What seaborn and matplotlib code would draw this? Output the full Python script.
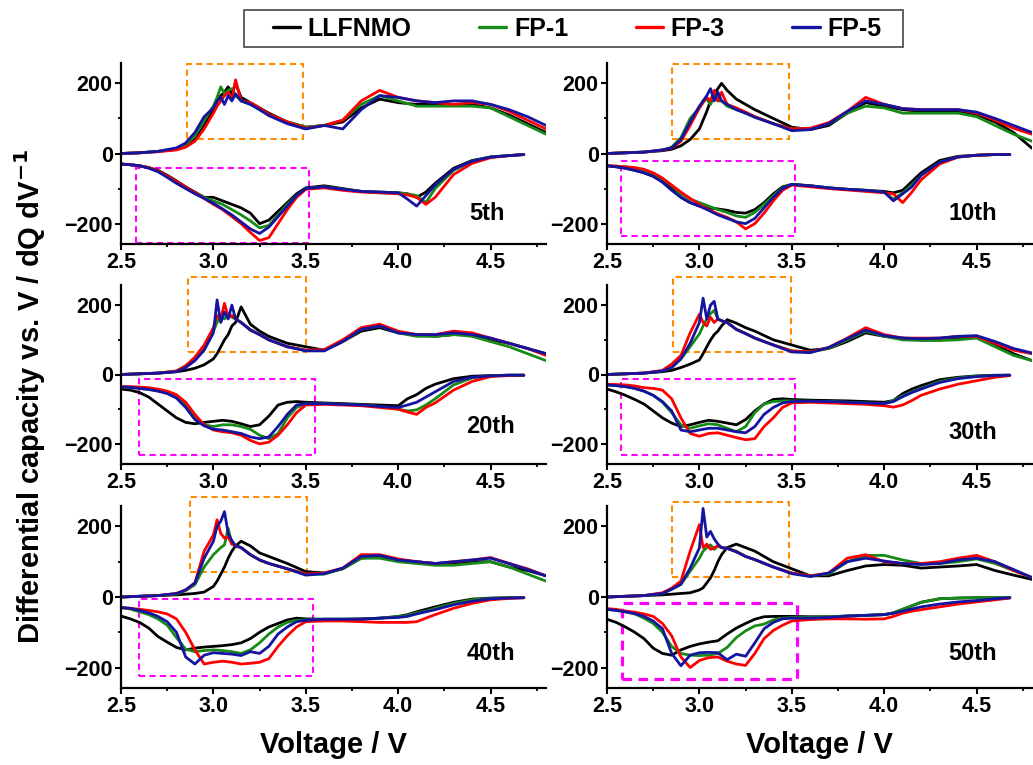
import matplotlib
matplotlib.use("Agg")
import matplotlib.pyplot as plt
from matplotlib.patches import Rectangle
from matplotlib.ticker import MultipleLocator, FormatStrFormatter
from matplotlib.lines import Line2D
import pandas as pd
import seaborn as sns

# ---------------- data ----------------
SAMPLES = ["LLFNMO", "FP-1", "FP-3", "FP-5"]
COLORS = ["#000000", "#178a17", "#ff0000", "#1414a0"]
CYCLES = ["5th", "10th", "20th", "30th", "40th", "50th"]

CH_V = [2.5, 2.6, 2.7, 2.8, 2.85, 2.9, 2.95, 3.0, 3.02, 3.04, 3.06, 3.08, 3.1, 3.12, 3.15, 3.2,
        3.25, 3.3, 3.4, 3.5, 3.6, 3.7, 3.8, 3.9, 4.0, 4.1, 4.2, 4.3, 4.4, 4.5, 4.6, 4.7, 4.8]
DIS_V = [2.5, 2.55, 2.6, 2.65, 2.7, 2.75, 2.8, 2.85, 2.9, 2.95, 3.0, 3.05, 3.1, 3.15, 3.2, 3.25,
         3.3, 3.35, 3.4, 3.45, 3.5, 3.6, 3.7, 3.8, 3.9, 4.0, 4.05, 4.1, 4.15, 4.2, 4.3, 4.4, 4.5, 4.6, 4.68]

# charge (positive) branches
CH_5 = {
    "LLFNMO": [0, 2, 6, 12, 20, 40, 80, 125, 150, 165, 175, 190, 170, 200, 160, 145, 130, 115, 90, 75, 80, 90, 130, 155, 145, 140, 140, 140, 140, 130, 110, 85, 60],
    "FP-1": [0, 2, 6, 14, 25, 50, 95, 135, 160, 190, 170, 180, 185, 165, 150, 140, 125, 110, 90, 75, 80, 95, 140, 165, 150, 135, 135, 135, 135, 130, 105, 80, 55],
    "FP-3": [0, 2, 5, 10, 18, 35, 70, 115, 135, 150, 165, 175, 155, 210, 150, 145, 130, 112, 90, 72, 80, 95, 150, 180, 160, 150, 145, 140, 145, 140, 120, 95, 70],
    "FP-5": [0, 2, 6, 16, 30, 60, 105, 130, 150, 160, 140, 165, 150, 170, 150, 140, 125, 108, 85, 70, 80, 70, 125, 165, 160, 150, 145, 150, 150, 140, 125, 105, 80],
}
CH_10 = {
    "LLFNMO": [0, 2, 4, 8, 12, 22, 40, 70, 95, 120, 150, 170, 185, 200, 180, 155, 140, 125, 100, 75, 68, 80, 115, 145, 135, 125, 120, 120, 120, 110, 90, 60, 15],
    "FP-1": [0, 2, 4, 10, 18, 45, 100, 130, 150, 155, 140, 160, 150, 150, 135, 125, 115, 105, 85, 70, 70, 85, 115, 135, 130, 115, 115, 115, 115, 105, 80, 55, 35],
    "FP-3": [0, 2, 4, 10, 15, 35, 80, 130, 145, 160, 150, 180, 150, 175, 140, 130, 118, 105, 85, 70, 72, 88, 120, 160, 140, 128, 125, 125, 125, 115, 95, 72, 55],
    "FP-5": [0, 2, 4, 10, 16, 40, 90, 135, 150, 165, 185, 150, 175, 150, 140, 125, 115, 103, 85, 65, 68, 85, 120, 150, 140, 128, 125, 125, 125, 118, 100, 80, 60],
}
CH_20 = {
    "LLFNMO": [0, 2, 4, 8, 12, 18, 28, 45, 60, 80, 100, 115, 140, 150, 195, 145, 125, 110, 90, 80, 70, 95, 125, 135, 120, 115, 110, 115, 115, 100, 90, 75, 60],
    "FP-1": [0, 2, 4, 10, 25, 45, 75, 125, 150, 170, 160, 175, 165, 160, 150, 130, 115, 100, 80, 70, 70, 95, 130, 140, 120, 110, 110, 115, 110, 95, 80, 60, 40],
    "FP-3": [0, 2, 4, 10, 25, 50, 85, 135, 170, 160, 205, 165, 170, 160, 150, 128, 115, 100, 80, 70, 72, 100, 135, 145, 125, 115, 115, 125, 120, 105, 90, 75, 55],
    "FP-5": [0, 2, 4, 8, 20, 40, 70, 120, 215, 150, 180, 160, 200, 160, 150, 128, 115, 100, 80, 68, 68, 95, 130, 140, 120, 115, 115, 120, 115, 105, 90, 75, 60],
}
CH_30 = {
    "LLFNMO": [0, 2, 4, 8, 12, 20, 30, 42, 60, 80, 99, 115, 125, 140, 158, 148, 135, 125, 100, 85, 70, 75, 95, 120, 110, 105, 100, 100, 105, 110, 85, 60, 40],
    "FP-1": [0, 2, 4, 10, 20, 45, 80, 117, 140, 160, 175, 185, 160, 155, 150, 130, 118, 105, 85, 68, 65, 75, 100, 125, 110, 100, 98, 98, 100, 105, 80, 55, 40],
    "FP-3": [0, 2, 4, 12, 30, 55, 120, 174, 150, 140, 165, 150, 160, 155, 150, 130, 118, 105, 85, 68, 65, 78, 105, 135, 115, 105, 105, 105, 110, 110, 90, 70, 60],
    "FP-5": [0, 2, 4, 10, 20, 45, 90, 150, 220, 160, 200, 211, 160, 155, 150, 130, 118, 105, 85, 65, 63, 78, 103, 128, 112, 105, 103, 105, 110, 112, 95, 75, 62],
}
CH_40 = {
    "LLFNMO": [0, 2, 4, 6, 8, 10, 14, 30, 45, 65, 85, 110, 130, 145, 158, 145, 125, 115, 95, 72, 68, 80, 110, 115, 105, 100, 95, 95, 100, 100, 85, 75, 60],
    "FP-1": [0, 2, 4, 8, 18, 35, 85, 120, 130, 140, 148, 195, 150, 145, 140, 120, 105, 95, 80, 65, 65, 80, 110, 110, 100, 95, 90, 90, 95, 100, 85, 65, 45],
    "FP-3": [0, 2, 4, 10, 20, 40, 130, 176, 219, 180, 167, 170, 150, 145, 140, 120, 105, 95, 80, 65, 68, 82, 120, 120, 108, 100, 95, 100, 105, 112, 95, 80, 60],
    "FP-5": [0, 2, 4, 10, 20, 40, 110, 158, 200, 215, 242, 180, 160, 145, 140, 120, 105, 95, 80, 62, 66, 82, 115, 118, 105, 100, 95, 100, 105, 110, 95, 78, 60],
}
CH_50 = {
    "LLFNMO": [0, 2, 4, 6, 8, 10, 12, 20, 26, 40, 54, 75, 100, 120, 140, 150, 140, 130, 100, 80, 60, 60, 75, 88, 92, 90, 82, 85, 88, 92, 75, 62, 50],
    "FP-1": [0, 2, 4, 10, 22, 36, 73, 110, 130, 140, 148, 135, 145, 140, 138, 130, 115, 106, 85, 68, 60, 65, 100, 118, 118, 105, 95, 95, 100, 108, 95, 75, 55],
    "FP-3": [0, 2, 4, 12, 25, 45, 130, 205, 140, 150, 135, 140, 145, 140, 138, 128, 115, 106, 85, 68, 60, 68, 110, 120, 100, 95, 95, 100, 110, 118, 100, 75, 55],
    "FP-5": [0, 2, 4, 10, 22, 36, 82, 139, 251, 170, 186, 165, 150, 140, 138, 128, 115, 106, 85, 66, 58, 68, 100, 110, 102, 95, 92, 95, 105, 110, 100, 78, 55],
}

# discharge (negative) branches
DIS_5 = {
    "LLFNMO": [-30, -32, -35, -40, -48, -62, -78, -95, -110, -125, -125, -135, -145, -155, -170, -200, -190, -165, -140, -115, -98, -92, -100, -108, -110, -112, -115, -125, -110, -85, -42, -20, -10, -6, -3],
    "FP-1": [-30, -32, -35, -40, -50, -65, -82, -98, -112, -125, -135, -145, -160, -175, -192, -212, -205, -175, -145, -120, -100, -95, -102, -108, -112, -112, -115, -120, -140, -100, -48, -22, -10, -6, -3],
    "FP-3": [-30, -32, -35, -40, -50, -64, -80, -96, -112, -128, -145, -160, -180, -200, -225, -248, -240, -200, -160, -125, -102, -98, -105, -110, -112, -115, -118, -125, -145, -125, -60, -28, -12, -6, -3],
    "FP-5": [-30, -32, -35, -42, -52, -68, -85, -100, -115, -128, -142, -158, -175, -195, -215, -228, -210, -180, -150, -120, -100, -95, -102, -108, -110, -112, -130, -150, -120, -90, -45, -22, -10, -6, -3],
}
DIS_10 = {
    "LLFNMO": [-35, -38, -42, -48, -55, -65, -80, -100, -125, -140, -150, -155, -158, -162, -168, -170, -160, -140, -115, -95, -88, -92, -98, -102, -105, -108, -112, -105, -80, -55, -20, -8, -5, -3, -3],
    "FP-1": [-35, -36, -38, -42, -48, -58, -72, -92, -115, -130, -140, -150, -160, -168, -178, -182, -168, -145, -120, -98, -88, -92, -98, -102, -105, -110, -130, -112, -90, -62, -25, -10, -5, -3, -3],
    "FP-3": [-35, -36, -38, -40, -45, -55, -70, -90, -110, -128, -145, -160, -172, -182, -195, -215, -200, -170, -135, -105, -90, -95, -100, -104, -108, -112, -115, -140, -110, -75, -30, -10, -5, -3, -3],
    "FP-5": [-35, -38, -42, -48, -55, -65, -82, -105, -125, -140, -150, -162, -175, -185, -195, -200, -185, -155, -125, -100, -88, -92, -98, -102, -105, -110, -135, -115, -95, -62, -25, -10, -5, -3, -3],
}
DIS_20 = {
    "LLFNMO": [-42, -45, -52, -65, -85, -105, -125, -138, -142, -138, -135, -132, -135, -142, -150, -145, -120, -88, -80, -78, -80, -82, -84, -86, -88, -90, -70, -58, -40, -28, -12, -5, -3, -2, -2],
    "FP-1": [-36, -37, -40, -43, -47, -52, -62, -88, -125, -145, -150, -145, -145, -150, -158, -175, -185, -170, -125, -95, -84, -84, -86, -88, -92, -100, -105, -102, -88, -70, -30, -10, -4, -2, -2],
    "FP-3": [-35, -35, -36, -38, -42, -48, -58, -80, -115, -145, -160, -165, -168, -175, -190, -200, -195, -175, -145, -110, -88, -86, -88, -90, -95, -100, -108, -115, -95, -82, -45, -20, -6, -3, -2],
    "FP-5": [-36, -37, -40, -43, -48, -55, -68, -95, -130, -148, -158, -160, -165, -170, -180, -185, -180, -150, -115, -88, -84, -84, -86, -88, -92, -95, -88, -80, -65, -50, -20, -8, -4, -2, -2],
}
DIS_30 = {
    "LLFNMO": [-42, -50, -60, -72, -85, -105, -125, -140, -150, -145, -138, -132, -135, -140, -145, -130, -105, -85, -72, -70, -72, -74, -75, -76, -78, -80, -75, -55, -42, -32, -15, -8, -4, -2, -2],
    "FP-1": [-30, -32, -35, -40, -48, -60, -80, -110, -145, -155, -148, -142, -145, -155, -165, -150, -110, -85, -78, -76, -76, -77, -78, -80, -82, -84, -75, -62, -50, -40, -20, -10, -5, -3, -2],
    "FP-3": [-28, -29, -30, -33, -38, -40, -45, -70, -125, -170, -178, -170, -168, -175, -182, -188, -185, -150, -125, -95, -82, -80, -82, -84, -86, -90, -94, -88, -75, -60, -42, -28, -18, -8, -3],
    "FP-5": [-30, -32, -35, -40, -48, -60, -78, -105, -160, -165, -160, -155, -155, -160, -165, -168, -150, -115, -95, -82, -78, -77, -78, -80, -82, -84, -78, -64, -52, -42, -23, -12, -6, -3, -2],
}
DIS_40 = {
    "LLFNMO": [-54, -62, -72, -88, -112, -128, -143, -150, -145, -142, -140, -138, -135, -130, -118, -100, -85, -75, -65, -60, -62, -63, -63, -62, -60, -55, -50, -42, -35, -28, -15, -6, -3, -2, -2],
    "FP-1": [-30, -34, -42, -50, -62, -80, -115, -148, -155, -152, -150, -152, -155, -160, -150, -130, -105, -85, -72, -66, -65, -63, -63, -63, -60, -56, -52, -45, -40, -32, -18, -8, -4, -2, -2],
    "FP-3": [-30, -32, -35, -38, -42, -48, -62, -100, -150, -190, -185, -182, -185, -190, -188, -185, -175, -140, -110, -85, -70, -68, -68, -70, -72, -72, -72, -70, -60, -50, -32, -18, -8, -4, -2],
    "FP-5": [-30, -32, -38, -45, -55, -70, -100, -170, -190, -165, -158, -160, -162, -166, -155, -160, -140, -105, -85, -70, -66, -63, -63, -63, -60, -58, -55, -48, -42, -36, -22, -12, -5, -3, -2],
}
DIS_50 = {
    "LLFNMO": [-63, -72, -85, -100, -118, -145, -160, -165, -150, -140, -133, -128, -124, -105, -88, -75, -63, -56, -55, -55, -55, -56, -56, -54, -52, -50, -45, -35, -25, -15, -5, -3, -2, -2, -2],
    "FP-1": [-35, -38, -42, -48, -60, -75, -100, -140, -160, -165, -166, -165, -160, -143, -115, -96, -82, -77, -65, -60, -58, -58, -56, -54, -52, -50, -45, -35, -25, -15, -5, -3, -2, -2, -2],
    "FP-3": [-33, -35, -40, -43, -48, -55, -75, -110, -170, -200, -180, -172, -170, -182, -190, -194, -160, -118, -95, -80, -68, -64, -62, -62, -63, -62, -55, -46, -40, -36, -28, -20, -14, -8, -3],
    "FP-5": [-35, -38, -42, -47, -55, -68, -90, -160, -195, -165, -158, -157, -158, -178, -162, -168, -130, -90, -72, -62, -60, -60, -58, -54, -52, -50, -46, -40, -34, -28, -20, -14, -10, -5, -2],
}

CHARGE = [CH_5, CH_10, CH_20, CH_30, CH_40, CH_50]
DISCHARGE = [DIS_5, DIS_10, DIS_20, DIS_30, DIS_40, DIS_50]

# ---------------- layout / style ----------------
W, H = 1033, 765
sns.set_theme(style="ticks")
plt.rcParams["font.family"] = ["Liberation Sans", "DejaVu Sans"]
plt.rcParams["font.weight"] = "bold"
plt.rcParams["axes.labelweight"] = "bold"
plt.rcParams["mathtext.default"] = "bf"
for key in ["text.color", "axes.labelcolor", "xtick.color", "ytick.color", "axes.edgecolor"]:
    plt.rcParams[key] = "black"

fig = plt.figure(figsize=(W / 100, H / 100), dpi=100)
fig.patch.set_facecolor("white")

col_x = [121, 607]
ax_w = 425
rows = [(63, 244), (285, 464), (506, 688)]

# boxes: (x0, x1, y0, y1)
ORANGE_BOX = [(2.857, 3.485, 41, 255), (2.85, 3.485, 41, 255), (2.86, 3.50, 65, 281),
              (2.857, 3.496, 65, 281), (2.873, 3.506, 71, 283), (2.85, 3.485, 57, 269)]
MAGENTA_BOX = [(2.58, 3.52, -255, -41), (2.576, 3.517, -235, -21), (2.60, 3.55, -232, -13),
               (2.576, 3.517, -232, -13), (2.597, 3.539, -224, -6), (2.58, 3.53, -232, -17)]
LABEL_POS = [(4.48, -172), (4.48, -170), (4.50, -151), (4.48, -168), (4.50, -159), (4.48, -159)]

palette = dict(zip(SAMPLES, COLORS))
for i, cyc in enumerate(CYCLES):
    r, c = divmod(i, 2)
    top, bot = rows[r]
    ax = fig.add_axes([col_x[c] / W, 1 - bot / H, ax_w / W, (bot - top) / H])
    frames = []
    for s in SAMPLES:
        frames.append(pd.DataFrame({"V": CH_V, "dQ": CHARGE[i][s], "sample": s, "branch": "ch"}))
        frames.append(pd.DataFrame({"V": DIS_V, "dQ": DISCHARGE[i][s], "sample": s, "branch": "dis"}))
    df = pd.concat(frames, ignore_index=True)
    sns.lineplot(data=df, x="V", y="dQ", hue="sample", hue_order=SAMPLES, palette=palette,
                 units="branch", estimator=None, sort=False, linewidth=2.0, legend=False, ax=ax)

    ax.set_xlim(2.5, 4.8)
    ax.set_ylim(-258, 258)
    ax.xaxis.set_major_locator(MultipleLocator(0.5))
    ax.xaxis.set_minor_locator(MultipleLocator(0.25))
    ax.xaxis.set_major_formatter(FormatStrFormatter("%.1f"))
    ax.yaxis.set_major_locator(MultipleLocator(200))
    ax.yaxis.set_minor_locator(MultipleLocator(100))
    ax.tick_params(axis="both", which="major", direction="out", length=4, width=1.5,
                   labelsize=15.5, pad=2, colors="black")
    ax.tick_params(axis="both", which="minor", direction="out", length=2.5, width=1.3, colors="black")
    for lab in ax.get_xticklabels() + ax.get_yticklabels():
        lab.set_fontweight("bold")
    for sp in ["top", "right"]:
        ax.spines[sp].set_visible(False)
    for sp in ["left", "bottom"]:
        ax.spines[sp].set_linewidth(1.6)
        ax.spines[sp].set_color("black")
    ax.set_xlabel("")
    ax.set_ylabel("")
    ax.patch.set_alpha(0)

    ox0, ox1, oy0, oy1 = ORANGE_BOX[i]
    ax.add_patch(Rectangle((ox0, oy0), ox1 - ox0, oy1 - oy0, fill=False, edgecolor="#ff8c00",
                           linewidth=1.5, linestyle=(0, (3, 2)), clip_on=False, zorder=1))
    mx0, mx1, my0, my1 = MAGENTA_BOX[i]
    ax.add_patch(Rectangle((mx0, my0), mx1 - mx0, my1 - my0, fill=False, edgecolor="#ff00ff",
                           linewidth=2.3 if i == 5 else 1.5, linestyle=(0, (3, 2)),
                           clip_on=False, zorder=1))
    lx, ly = LABEL_POS[i]
    ax.text(lx, ly, cyc, fontsize=17, fontweight="bold", ha="center", va="center", color="black")

    if r == 2:
        ax.set_xlabel("Voltage / V", fontsize=21, fontweight="bold", labelpad=10, color="black")

fig.text(0.029, 0.482, "Differential capacity vs. V / dQ dV$^{-1}$", rotation=90,
         fontsize=21, fontweight="bold", ha="center", va="center", color="black")

handles = [Line2D([0], [0], color=col, lw=2.4) for col in COLORS]
leg = fig.legend(handles, SAMPLES, loc="center", bbox_to_anchor=(577 / W, 1 - 29 / H),
                 ncol=4, frameon=False, prop={"size": 18, "weight": "bold"},
                 handlelength=1.1, handletextpad=0.3, columnspacing=2.7, borderpad=0.2)
for t in leg.get_texts():
    t.set_color("black")
fig.add_artist(Rectangle((244 / W, 1 - 47 / H), 659 / W, 37 / H, transform=fig.transFigure,
                         fill=False, edgecolor="#555555", linewidth=1.3))

fig.savefig("out.png", dpi=100, facecolor="white")
